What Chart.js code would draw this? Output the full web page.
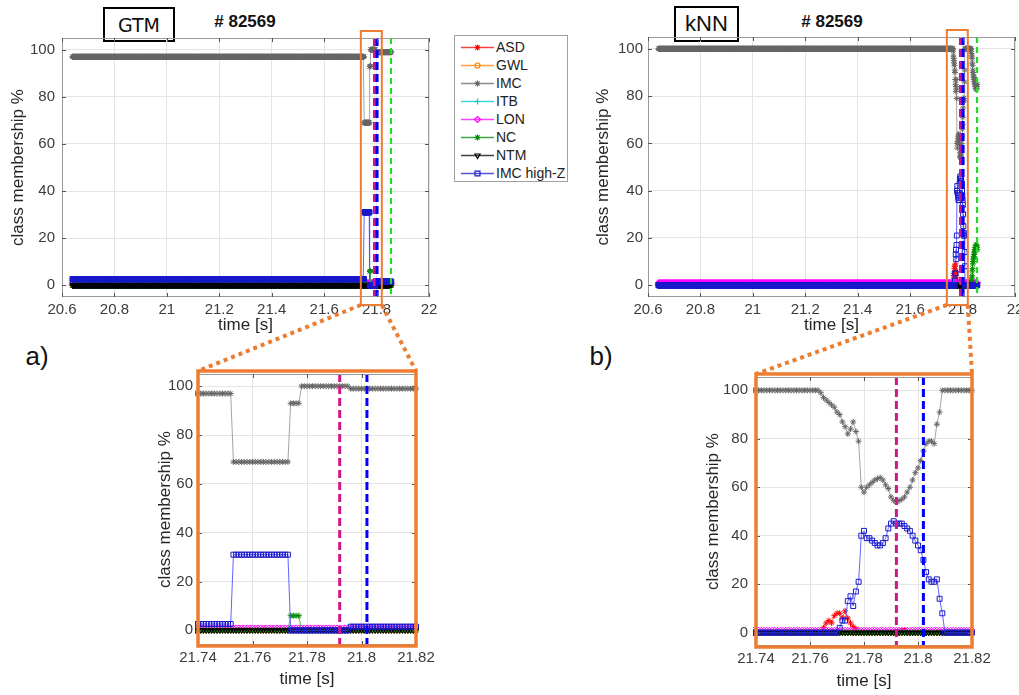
<!DOCTYPE html>
<html>
<head>
<meta charset="utf-8">
<script src="https://cdn.jsdelivr.net/npm/chart.js@4.4.0/dist/chart.umd.min.js"></script>
<style>
    html, body { margin: 0; padding: 0; background: #fff; width: 1019px; height: 695px; overflow: hidden; }
    body { position: relative; font-family: "Liberation Sans", Arial, sans-serif; color: #222; }
    .plot { position: absolute; }
    .tag { position: absolute; border: 2px solid #000; box-sizing: border-box; display: flex; align-items: center; justify-content: center; background: #fff; color: #111; }
    .shot { position: absolute; font-weight: bold; font-size: 17px; color: #111; transform: translate(-50%, -50%); white-space: nowrap; }
    .panel { position: absolute; font-size: 26px; color: #111; transform: translate(-50%, -50%); }
    #legend { position: absolute; left: 454px; top: 35px; width: 114px; height: 147px; box-sizing: border-box; border: 1px solid #a0a0a0; background: #fff; }
    .lrow { position: absolute; left: 0; height: 18px; width: 112px; }
    .lrow canvas { position: absolute; left: 6px; top: 2px; }
    .lrow span { position: absolute; left: 41px; top: 0; font-size: 14px; line-height: 18px; color: #222; white-space: nowrap; }
    #overlay { position: absolute; left: 0; top: 0; pointer-events: none; z-index: 5; }
</style>
</head>
<body>

<div class="tag" style="left:103px;top:7px;width:72px;height:35px;font-family:'DejaVu Sans';font-size:19px;">GTM</div>
<div class="shot" style="left:245px;top:22px;"># 82569</div>
<div class="tag" style="left:674px;top:6px;width:65px;height:36px;font-size:22px;">kNN</div>
<div class="shot" style="left:832px;top:22px;"># 82569</div>
<div class="panel" style="left:37px;top:356px;">a)</div>
<div class="panel" style="left:601px;top:356px;">b)</div>

<div class="plot" id="boxGtmFull"><canvas id="gtmFull"></canvas></div>
<div class="plot" id="boxKnnFull"><canvas id="knnFull"></canvas></div>
<div class="plot" id="boxGtmZoom"><canvas id="gtmZoom"></canvas></div>
<div class="plot" id="boxKnnZoom"><canvas id="knnZoom"></canvas></div>
<div id="legend"></div>
<canvas id="overlay" width="1019" height="695"></canvas>

<script>
// ---- data ----
const seriesNames = ['ASD', 'GWL', 'IMC', 'ITB', 'LON', 'NC', 'NTM', 'IMC high-Z'];

// tick labels
const xTicksFull = [20.6, 20.8, 21, 21.2, 21.4, 21.6, 21.8, 22];
const xTicksZoom = [21.74, 21.76, 21.78, 21.8, 21.82];
const yTicks = [0, 20, 40, 60, 80, 100];

// zoomed time window [s] and event times (dashed lines) [s]
const zoomWindow = [21.74, 21.82];
const eventTimes = [21.792, 21.802, 21.855];

// samples every 1 ms; pieces are [fromMs, toMs, value] or [fromMs, [value per ms]]
const gtmASD = [[20640, 21856, 0]];
const gtmGWL = [[20640, 21856, 0]];
const gtmIMC = [[20640, 21752, 97], [21753, 21773, 69], [21774, 21777, 93], [21778, 21795, 100], [21796, 21856, 99]];
const gtmITB = [[20640, 21856, 0]];
const gtmLON = [[20640, 21856, 1]];
const gtmNC = [[20640, 21773, 0], [21774, 21777, 6], [21778, 21856, 0]];
const gtmNTM = [[20640, 21856, 0]];
const gtmIMCZ = [[20640, 21752, 2.6], [21753, 21773, 31], [21774, 21795, 0], [21796, 21856, 1.5]];

// kNN: 21.764 .. 21.808
const knnIMCDip = [99, 97, 96, 95, 94, 93, 91, 90, 87, 85, 82, 84, 87, 83, 79, 60, 58, 60, 61, 62, 63, 63.5, 64, 63, 61,
    59.5, 56, 54.5, 54, 54.5, 55, 56, 58, 60, 63, 66, 68, 71, 75, 78, 79, 79, 78, 86, 91];
// kNN: 21.833 .. 21.856
const knnIMCTail = [99, 98, 97, 96, 94, 93, 91, 90, 89, 88, 87, 88, 86, 85, 86, 84, 85, 83, 84, 85, 84, 83, 84, 85];
const knnNCTail = [1, 2, 3, 4, 6, 7, 9, 10, 11, 12, 13, 12, 14, 15, 14, 16, 15, 17, 16, 15, 16, 17, 16, 15];
// kNN: 21.765 .. 21.777
const knnASDBump = [2, 4, 5, 4, 7, 8, 8, 6, 9, 6, 4, 2.5, 1.5];
// kNN: 21.771 .. 21.809
const knnIMCZBump = [2, 5, 5, 13, 15, 11, 17, 21, 40, 42, 39, 39, 38, 37, 36, 36, 37, 39, 43, 45, 46, 45, 45, 45,
    44, 43, 42, 40, 38, 36, 34, 30, 25, 22, 21, 21, 22, 14, 8];

const knnASD = [[20640, 21764, 0], [21765, knnASDBump], [21778, 21793, 0], [21794, 21795, 1], [21796, 21856, 0]];
const knnGWL = [[20640, 21856, 0]];
const knnIMC = [[20640, 21763, 100], [21764, knnIMCDip], [21809, 21832, 100], [21833, knnIMCTail]];
const knnITB = [[20640, 21856, 0]];
const knnLON = [[20640, 21856, 1]];
const knnNC = [[20640, 21832, 0], [21833, knnNCTail]];
const knnNTM = [[20640, 21856, 0]];
const knnIMCZ = [[20640, 21770, 0], [21771, knnIMCZBump], [21810, 21856, 0]];

const gtmSeries = [gtmASD, gtmGWL, gtmIMC, gtmITB, gtmLON, gtmNC, gtmNTM, gtmIMCZ];
const knnSeries = [knnASD, knnGWL, knnIMC, knnITB, knnLON, knnNC, knnNTM, knnIMCZ];

// ---- styles ----
const lineColors = ['#ff3030', '#ffa64d', '#9a9a9a', '#33e6e6', '#ff4dff', '#40b840', '#3a3a3a', '#5050ff'];
const markerColors = ['#ff0000', '#ff8000', '#666666', '#00cccc', '#ff00ff', '#008c00', '#000000', '#1a1acc'];
const markerStyles = ['star', 'circle', 'star', 'cross', 'rectRot', 'star', 'triangle', 'rect'];
const markerRotation = [0, 0, 0, 0, 0, 0, 180, 0];
const markerRadius = [3, 2.5, 3, 3, 3, 3, 3, 3.5];
const eventColors = ['#d0168a', '#0000ff', '#22dd22'];

Chart.defaults.font.family = "'Liberation Sans', Arial, sans-serif";
Chart.defaults.animation = false;

// turn the pieces into {x, y} points
function expand(pieces) {
    const pts = [];
    pieces.forEach(p => {
        if (Array.isArray(p[1])) {
            p[1].forEach((v, i) => pts.push({ x: (p[0] + i) / 1000, y: v }));
        } else {
            for (let ms = p[0]; ms <= p[1]; ms++) pts.push({ x: ms / 1000, y: p[2] });
        }
    });
    return pts;
}

// axis box (MATLAB style) with inward ticks
const framePlugin = {
    id: 'frame',
    afterDraw(chart) {
        const { ctx, chartArea: a, scales } = chart;
        ctx.save();
        ctx.strokeStyle = '#9a9a9a';
        ctx.lineWidth = 1;
        ctx.strokeRect(a.left + 0.5, a.top + 0.5, a.width - 1, a.height - 1);
        ctx.strokeStyle = '#555';
        ctx.beginPath();
        scales.x.ticks.forEach(t => {
            const px = Math.round(scales.x.getPixelForValue(t.value)) + 0.5;
            ctx.moveTo(px, a.bottom); ctx.lineTo(px, a.bottom - 4);
            ctx.moveTo(px, a.top); ctx.lineTo(px, a.top + 4);
        });
        scales.y.ticks.forEach(t => {
            const py = Math.round(scales.y.getPixelForValue(t.value)) + 0.5;
            ctx.moveTo(a.left, py); ctx.lineTo(a.left + 4, py);
            ctx.moveTo(a.right, py); ctx.lineTo(a.right - 4, py);
        });
        ctx.stroke();
        ctx.restore();
    }
};

// dashed vertical lines at the event times
const eventPlugin = {
    id: 'eventLines',
    afterDatasetsDraw(chart) {
        const { ctx, chartArea: a, scales: { x } } = chart;
        ctx.save();
        ctx.beginPath();
        ctx.rect(a.left, a.top, a.width, a.height);
        ctx.clip();
        eventTimes.forEach((t, i) => {
            ctx.strokeStyle = eventColors[i];
            ctx.lineWidth = i < 2 ? 3 : 2.2;
            ctx.setLineDash(i < 2 ? [8, 4] : [6, 4]);
            const px = x.getPixelForValue(t);
            ctx.beginPath();
            ctx.moveTo(px, a.top);
            ctx.lineTo(px, a.bottom);
            ctx.stroke();
        });
        ctx.restore();
    }
};

function makeChart(canvasId, boxId, series, b) {
    const padTop = 15, padRight = 25;
    const width = b.yw + b.w + padRight;
    const height = padTop + b.h + b.xh;
    const box = document.getElementById(boxId);
    box.style.left = (b.left - b.yw) + 'px';
    box.style.top = (b.top - padTop) + 'px';
    box.style.width = width + 'px';
    box.style.height = height + 'px';
    const cv = document.getElementById(canvasId);
    cv.width = width;
    cv.height = height;

    const datasets = series.map((pieces, i) => {
        let pts = expand(pieces);
        if (b.window) pts = pts.filter(p => p.x >= b.xmin - 0.0015 && p.x <= b.xmax + 0.0015);
        return {
            label: seriesNames[i],
            data: pts,
            order: seriesNames.length - i,
            borderColor: lineColors[i],
            borderWidth: 0.9,
            pointStyle: markerStyles[i],
            pointRotation: markerRotation[i],
            pointRadius: markerRadius[i],
            pointBorderColor: markerColors[i],
            pointBackgroundColor: 'rgba(0,0,0,0)',
            pointBorderWidth: 1,
            clip: 3,
        };
    });

    return new Chart(cv, {
        type: 'line',
        data: { datasets: datasets },
        options: {
            responsive: false,
            parsing: false,
            normalized: true,
            events: [],
            layout: { padding: { left: 0, top: padTop, right: padRight, bottom: 0 } },
            plugins: { legend: { display: false }, tooltip: { enabled: false } },
            scales: {
                x: {
                    type: 'linear',
                    min: b.xmin,
                    max: b.xmax,
                    afterBuildTicks: s => { s.ticks = b.xTicks.map(v => ({ value: v })); },
                    afterFit: s => { s.height = b.xh; },
                    grid: { color: '#e4e4e4', drawTicks: false },
                    border: { display: false },
                    ticks: {
                        autoSkip: false,
                        maxRotation: 0,
                        padding: 4,
                        color: '#3c3c3c',
                        font: { size: 15 },
                        callback: v => String(+v.toFixed(2)),
                    },
                    title: { display: true, text: 'time [s]', color: '#262626', font: { size: 17 }, padding: 0 },
                },
                y: {
                    min: b.ymin,
                    max: b.ymax,
                    afterBuildTicks: s => { s.ticks = yTicks.map(v => ({ value: v })); },
                    afterFit: s => { s.width = b.yw; },
                    grid: { color: '#e4e4e4', drawTicks: false },
                    border: { display: false },
                    ticks: { padding: b.tickPad, color: '#3c3c3c', font: { size: 15 } },
                    title: { display: true, text: 'class membership %', color: '#262626', font: { size: 17 }, padding: 0 },
                },
            },
        },
        plugins: [eventPlugin, framePlugin],
    });
}

const gtmFull = makeChart('gtmFull', 'boxGtmFull', gtmSeries, {
    left: 62, top: 37, w: 367, h: 260, yw: 54, xh: 39, tickPad: 7,
    xmin: 20.6, xmax: 22, ymin: -5, ymax: 105, xTicks: xTicksFull,
});
const knnFull = makeChart('knnFull', 'boxKnnFull', knnSeries, {
    left: 648, top: 37, w: 367, h: 260, yw: 55, xh: 39, tickPad: 5,
    xmin: 20.6, xmax: 22, ymin: -5, ymax: 105, xTicks: xTicksFull,
});
const gtmZoom = makeChart('gtmZoom', 'boxGtmZoom', gtmSeries, {
    left: 198, top: 374, w: 218, h: 271, yw: 43, xh: 45, tickPad: 5,
    xmin: zoomWindow[0], xmax: zoomWindow[1], ymin: -6, ymax: 105, xTicks: xTicksZoom, window: true,
});
const knnZoom = makeChart('knnZoom', 'boxKnnZoom', knnSeries, {
    left: 756, top: 375, w: 216, h: 271, yw: 53, xh: 46, tickPad: 8,
    xmin: zoomWindow[0], xmax: zoomWindow[1], ymin: -5.5, ymax: 105.5, xTicks: xTicksZoom, window: true,
});

// ---- legend ----
const legendBox = document.getElementById('legend');
seriesNames.forEach((name, i) => {
    const row = document.createElement('div');
    row.className = 'lrow';
    row.style.top = (2 + 18 * i) + 'px';
    const c = document.createElement('canvas');
    c.width = 33;
    c.height = 14;
    const g = c.getContext('2d');
    g.strokeStyle = markerColors[i];
    g.globalAlpha = 0.75;
    g.lineWidth = 1.4;
    g.beginPath();
    g.moveTo(0, 7.5);
    g.lineTo(33, 7.5);
    g.stroke();
    g.globalAlpha = 1;
    g.fillStyle = 'rgba(0,0,0,0)';
    g.lineWidth = 1.2;
    if (Chart.helpers && Chart.helpers.drawPoint) {
        Chart.helpers.drawPoint(g, { pointStyle: markerStyles[i], rotation: markerRotation[i], radius: markerRadius[i], borderWidth: 1.2 }, 16.5, 7.5);
    }
    const s = document.createElement('span');
    s.textContent = name;
    row.appendChild(c);
    row.appendChild(s);
    legendBox.appendChild(row);
});

// ---- zoom boxes and connectors ----
function pageArea(chart, boxId) {
    const box = document.getElementById(boxId);
    const ox = parseFloat(box.style.left), oy = parseFloat(box.style.top);
    return { chart, ox, oy, a: chart.chartArea };
}

function drawZoomLink(full, fullBox, zoom, zoomBox) {
    const ov = document.getElementById('overlay').getContext('2d');
    const f = pageArea(full, fullBox);
    const z = pageArea(zoom, zoomBox);
    const fx0 = f.ox + full.scales.x.getPixelForValue(zoomWindow[0]);
    const fx1 = f.ox + full.scales.x.getPixelForValue(zoomWindow[1]);
    const fy0 = f.oy + f.a.top - 7;
    const fy1 = f.oy + f.a.bottom + 8;
    const zx0 = z.ox + z.a.left;
    const zx1 = z.ox + z.a.right;
    const zy0 = z.oy + z.a.top - 3;
    const zy1 = z.oy + z.a.bottom + 1;
    ov.save();
    ov.strokeStyle = '#ed7d31';
    ov.lineWidth = 2;
    ov.strokeRect(fx0, fy0, fx1 - fx0, fy1 - fy0);
    ov.lineWidth = 3.5;
    ov.strokeRect(zx0, zy0, zx1 - zx0, zy1 - zy0);
    ov.lineWidth = 4;
    ov.setLineDash([4, 4]);
    ov.beginPath();
    ov.moveTo(fx0, fy1); ov.lineTo(zx0, zy0);
    ov.moveTo(fx1, fy1); ov.lineTo(zx1, zy0);
    ov.stroke();
    ov.restore();
}

drawZoomLink(gtmFull, 'boxGtmFull', gtmZoom, 'boxGtmZoom');
drawZoomLink(knnFull, 'boxKnnFull', knnZoom, 'boxKnnZoom');
</script>
</body>
</html>
